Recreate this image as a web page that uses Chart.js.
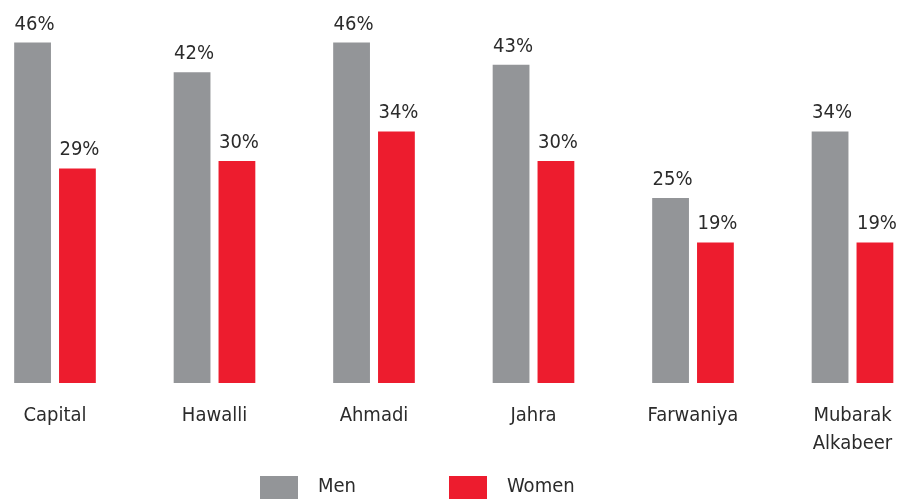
<!DOCTYPE html>
<html>
<head>
<meta charset="utf-8">
<script src="https://cdn.jsdelivr.net/npm/chart.js@4/dist/chart.umd.min.js"></script>
<style>
  html, body { margin: 0; padding: 0; background: #ffffff; }
  #wrap { width: 902px; height: 499px; position: relative; }
</style>
</head>
<body>
<div id="wrap"><canvas id="c" width="902" height="499"></canvas></div>
<script>
const categories = ["Capital", "Hawalli", "Ahmadi", "Jahra", "Farwaniya", ["Mubarak", "Alkabeer"]];
const seriesNames = ["Men", "Women"];
const menValues = [46, 42, 46, 43, 25, 34];
const womenValues = [29, 30, 34, 30, 19, 19];
const seriesColors = ["#939598", "#ED1C2E"];

const FONT = "'Liberation Sans Narrow', 'DejaVu Sans Condensed', 'Open Sans', sans-serif";
const TEXT = "#2b2b2b";
const FS = 20;

// stretch the category axis so that groups sit where they do in the reference
const axisSpan = {
  id: 'axisSpan',
  afterLayout(chart) {
    const x = chart.scales.x;
    x.left = -24.75;
    x.right = 932.25;
    x.width = x.right - x.left;
    x.configure();
  }
};

const valueLabels = {
  id: 'valueLabels',
  afterDatasetsDraw(chart) {
    const ctx = chart.ctx;
    ctx.save();
    ctx.font = FS + "px " + FONT;
    ctx.fillStyle = TEXT;
    ctx.textAlign = 'center';
    ctx.textBaseline = 'alphabetic';
    chart.data.datasets.forEach((ds, i) => {
      const meta = chart.getDatasetMeta(i);
      meta.data.forEach((bar, j) => {
        ctx.fillText(ds.data[j] + '%', bar.x + 2, bar.y - 13);
      });
    });
    ctx.restore();
  }
};

const customLegend = {
  id: 'customLegend',
  afterDraw(chart) {
    const ctx = chart.ctx;
    const boxX = [260, 449];
    const textX = [318, 507];
    ctx.save();
    ctx.font = FS + "px " + FONT;
    ctx.textBaseline = 'middle';
    ctx.textAlign = 'left';
    chart.data.datasets.forEach((ds, i) => {
      ctx.fillStyle = ds.backgroundColor;
      ctx.fillRect(boxX[i], 476, 38, 23);
      ctx.fillStyle = TEXT;
      ctx.fillText(ds.label, textX[i], 487);
    });
    ctx.restore();
  }
};

new Chart(document.getElementById('c'), {
  type: 'bar',
  data: {
    labels: categories,
    datasets: [
      { label: seriesNames[0], data: menValues, backgroundColor: seriesColors[0], clip: false },
      { label: seriesNames[1], data: womenValues, backgroundColor: seriesColors[1], clip: false }
    ]
  },
  options: {
    responsive: false,
    animation: false,
    devicePixelRatio: 1,
    categoryPercentage: 0.5625,
    barPercentage: 0.82,
    layout: { padding: { left: 0, right: 0, top: 13, bottom: 0 } },
    plugins: {
      legend: { display: false },
      tooltip: { enabled: false }
    },
    scales: {
      y: {
        display: false,
        min: 0,
        max: 50
      },
      x: {
        grid: { display: false, drawTicks: false },
        border: { display: false },
        afterFit(scale) { scale.height = 116; },
        ticks: {
          autoSkip: false,
          maxRotation: 0,
          padding: 19,
          color: TEXT,
          font: { family: FONT, size: FS, lineHeight: 1.4 }
        }
      }
    }
  },
  plugins: [axisSpan, valueLabels, customLegend]
});
</script>
</body>
</html>
